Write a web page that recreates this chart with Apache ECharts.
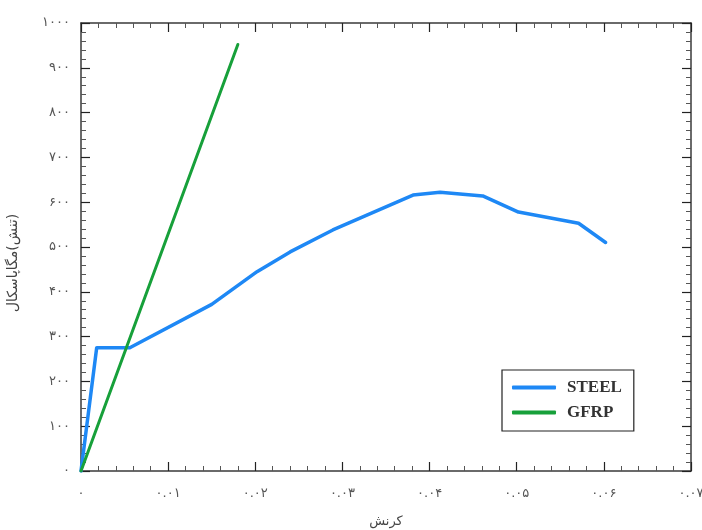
<!DOCTYPE html>
<html>
<head>
<meta charset="utf-8">
<script src="https://cdn.jsdelivr.net/npm/echarts@6/dist/echarts.min.js"></script>
<style>html,body{margin:0;padding:0;background:#fff}#c{width:702px;height:530px}</style>
</head>
<body>
<div id="c"></div>
<script>
// ---- data ----
const steelStrain = [0, 0.0018, 0.0056, 0.0150, 0.0202, 0.0240, 0.0289, 0.0381, 0.0412, 0.0461, 0.0502, 0.0571, 0.0602];
const steelStress = [0, 275, 275, 372, 445, 489, 538, 616, 622, 614, 578, 553, 510];
const gfrpStrain = [0, 0.0180];
const gfrpStress = [0, 952];
const xTickLabels = ['۰', '۰.۰۱', '۰.۰۲', '۰.۰۳', '۰.۰۴', '۰.۰۵', '۰.۰۶', '۰.۰۷'];
const yTickLabels = ['۰', '۱۰۰', '۲۰۰', '۳۰۰', '۴۰۰', '۵۰۰', '۶۰۰', '۷۰۰', '۸۰۰', '۹۰۰', '۱۰۰۰'];
const seriesNames = ['STEEL', 'GFRP'];
const xTitle = 'کرنش';
const yTitle = '\u200F(تنش)مگاپاسکال\u200F';

const pairs = (xs, ys) => xs.map((x, i) => [x, ys[i]]);
const FONT = 'DejaVu Sans';
const axisColor = '#3a3a3a';
const tickCommon = () => ({
  axisLine: { show: true, onZero: false, lineStyle: { color: axisColor, width: 1.5 } },
  axisTick: { show: true, inside: true, length: 9, lineStyle: { color: '#222', width: 1.2 } },
  minorTick: { show: true, splitNumber: 5, length: 5, lineStyle: { color: '#555', width: 1 } },
  splitLine: { show: false }
});

const chart = echarts.init(document.getElementById('c'), null, { renderer: 'canvas' });
chart.setOption({
  animation: false,
  backgroundColor: '#fff',
  grid: { left: 81, right: 11, top: 23, bottom: 59, containLabel: false, outerBoundsMode: 'none' },
  legend: {
    data: seriesNames,
    orient: 'vertical',
    left: 502, top: 370,
    backgroundColor: '#fff',
    borderColor: '#222', borderWidth: 1.2,
    padding: [9, 12, 10, 10],
    itemGap: 8,
    itemWidth: 44, itemHeight: 4,
    icon: 'roundRect',
    textStyle: { fontFamily: 'Liberation Serif', fontWeight: 'bold', fontSize: 17, color: '#333', padding: [0, 0, 0, 6] }
  },
  xAxis: [
    Object.assign({
      type: 'value', min: 0, max: 0.07, interval: 0.01, position: 'bottom',
      name: xTitle, nameLocation: 'middle', nameGap: 44,
      nameTextStyle: { fontFamily: FONT, fontSize: 13, color: '#444' },
      axisLabel: {
        margin: 16, fontFamily: FONT, fontSize: 13, color: '#555',
        formatter: v => xTickLabels[Math.round(v / 0.01)]
      }
    }, tickCommon()),
    Object.assign({
      type: 'value', min: 0, max: 0.07, interval: 0.01, position: 'top',
      axisLabel: { show: false }
    }, tickCommon())
  ],
  yAxis: [
    Object.assign({
      type: 'value', min: 0, max: 1000, interval: 100, position: 'left',
      name: yTitle, nameLocation: 'middle', nameGap: 61, nameRotate: 90,
      nameTextStyle: { fontFamily: FONT, fontSize: 14, color: '#444', padding: [0, 32, 0, 0] },
      axisLabel: {
        margin: 11, fontFamily: FONT, fontSize: 13, color: '#555',
        formatter: v => yTickLabels[Math.round(v / 100)]
      }
    }, tickCommon()),
    Object.assign({
      type: 'value', min: 0, max: 1000, interval: 100, position: 'right',
      axisLabel: { show: false }
    }, tickCommon())
  ],
  series: [
    {
      name: seriesNames[0], type: 'line', data: pairs(steelStrain, steelStress),
      symbol: 'none', smooth: false,
      lineStyle: { color: '#1E88F5', width: 3.5, cap: 'round', join: 'round' },
      itemStyle: { color: '#1E88F5' }
    },
    {
      name: seriesNames[1], type: 'line', data: pairs(gfrpStrain, gfrpStress),
      symbol: 'none',
      lineStyle: { color: '#17A03A', width: 3, cap: 'round' },
      itemStyle: { color: '#17A03A' }
    }
  ]
});
</script>
</body>
</html>
